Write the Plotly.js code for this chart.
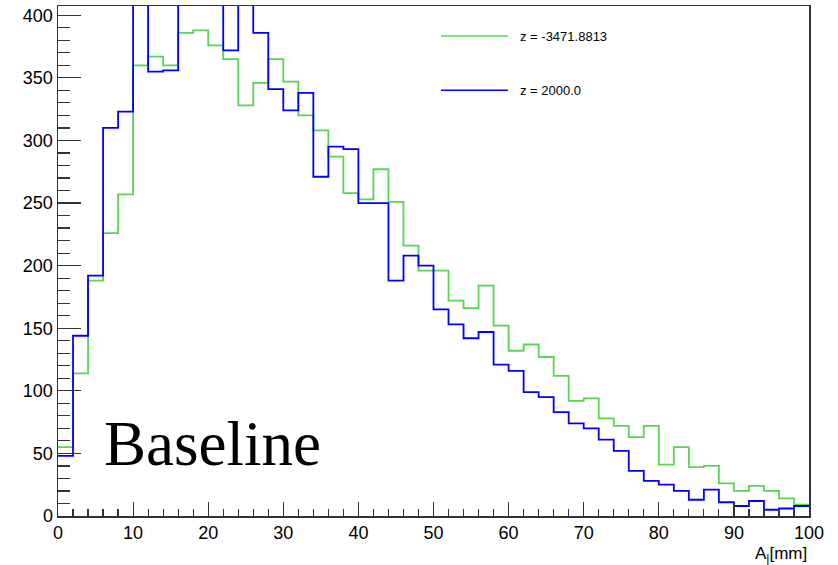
<!DOCTYPE html>
<html>
<head>
<meta charset="utf-8">
<script src="https://cdn.plot.ly/plotly-3.0.1.min.js"></script>
<style>html,body{margin:0;padding:0;background:#fff;}#chart{width:838px;height:565px;}</style>
</head>
<body>
<div id="chart"></div>
<script>
// Histogram: 50 bins of width 2 mm over [0, 100]
const binLow = 0;
const binWidth = 2;
const seriesNames = ["z = -3471.8813", "z = 2000.0"];
const greenCounts = [55, 114, 188, 226, 257, 360, 367, 360, 386, 388,
                     376, 365, 328, 346, 365, 347, 320, 308, 287, 258,
                     253, 277, 251, 216, 196, 196, 172, 166, 184, 152,
                     132, 137, 127, 112, 92, 94, 78, 72, 63, 72,
                     41, 55, 39, 40, 26, 20, 24, 20, 14, 9];
const blueCounts = [48, 144, 192, 310, 323, 420, 355, 356, 440, 450,
                    430, 372, 415, 386, 341, 324, 338, 271, 295, 293,
                    250, 250, 188, 208, 200, 165, 153, 142, 147, 121,
                    116, 99, 95, 83, 74, 70, 61, 52, 36, 28,
                    25, 20, 13, 21, 11, 8, 12, 5, 6, 8];
const xTitle = "A<sub>|</sub>[mm]";
const annotationText = "Baseline";

function stepXY(counts) {
  const x = [], y = [];
  for (let i = 0; i < counts.length; i++) { x.push(binLow + i * binWidth); y.push(counts[i]); }
  x.push(binLow + counts.length * binWidth); y.push(counts[counts.length - 1]);
  return {x, y};
}
const g = stepXY(greenCounts), b = stepXY(blueCounts);
const greenColor = "rgb(89,212,84)", blueColor = "rgb(0,0,255)";

const traces = [
  {x: g.x, y: g.y, type: "scatter", mode: "lines", line: {shape: "hv", color: greenColor, width: 1.8}, name: seriesNames[0], showlegend: false},
  {x: b.x, y: b.y, type: "scatter", mode: "lines", line: {shape: "hv", color: blueColor, width: 1.8}, name: seriesNames[1], showlegend: false}
];

// Legend drawn ROOT-style (long line samples, no frame)
const legY = [0.941, 0.835];
const legColors = [greenColor, blueColor];
const shapes = [], annotations = [];
for (let k = 0; k < 2; k++) {
  shapes.push({type: "line", xref: "paper", yref: "paper", x0: 0.510, x1: 0.599, y0: legY[k], y1: legY[k], line: {color: legColors[k], width: 1.5}});
  annotations.push({xref: "paper", yref: "paper", x: 0.612, y: legY[k], xanchor: "left", yanchor: "middle", showarrow: false, text: seriesNames[k], font: {family: "Liberation Sans, Arial, sans-serif", size: 13, color: "#000"}});
}
annotations.push({xref: "paper", yref: "paper", x: 0.058, y: 0.142, xanchor: "left", yanchor: "middle", showarrow: false, text: annotationText, font: {family: "Liberation Serif, Times New Roman, serif", size: 63, color: "#000"}});
annotations.push({xref: "paper", yref: "paper", x: 1.0, y: -0.05, xanchor: "right", yanchor: "top", showarrow: false, text: xTitle, font: {family: "Liberation Sans, Arial, sans-serif", size: 17, color: "#000"}});

const axisFont = {family: "Liberation Sans, Arial, sans-serif", size: 18, color: "#000"};
const layout = {
  width: 838, height: 565,
  margin: {l: 58, r: 29, t: 6, b: 49},
  paper_bgcolor: "#fff", plot_bgcolor: "#fff",
  showlegend: false,
  xaxis: {
    range: [0, 100], showgrid: false, zeroline: false,
    showline: true, mirror: true, linecolor: "#333", linewidth: 1.5,
    ticks: "inside", ticklen: 14, tickwidth: 1.2, tickcolor: "#333",
    dtick: 10, tick0: 0, tickfont: axisFont,
    minor: {dtick: 2, ticks: "inside", ticklen: 7, tickwidth: 1.2, tickcolor: "#333", showgrid: false}
  },
  yaxis: {
    range: [0, 407.4], showgrid: false, zeroline: false,
    showline: true, mirror: true, linecolor: "#333", linewidth: 1.5,
    ticks: "inside", ticklen: 23, tickwidth: 1.2, tickcolor: "#333",
    dtick: 50, tick0: 0, tickfont: axisFont,
    minor: {dtick: 10, ticks: "inside", ticklen: 12, tickwidth: 1.2, tickcolor: "#333", showgrid: false}
  },
  shapes: shapes,
  annotations: annotations
};
Plotly.newPlot("chart", traces, layout, {staticPlot: true, displayModeBar: false});
</script>
</body>
</html>
